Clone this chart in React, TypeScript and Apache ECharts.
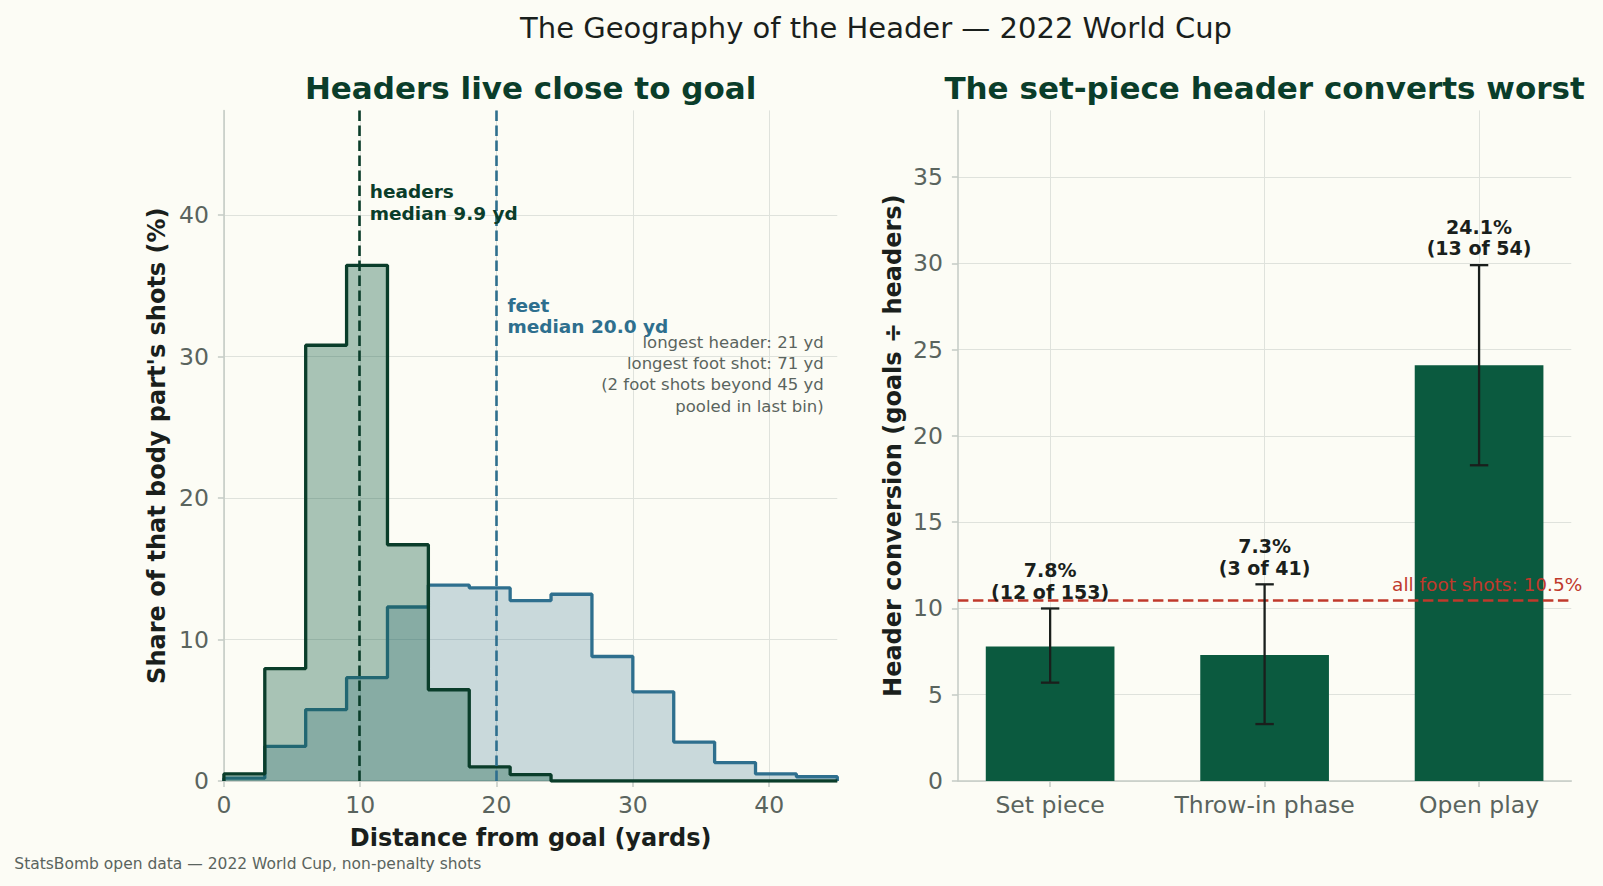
import React, { useEffect, useRef } from "react";
import * as echarts from "echarts";

// ---------- data ----------
const binEdges = [0, 3, 6, 9, 12, 15, 18, 21, 24, 27, 30, 33, 36, 39, 42];
const histMax = 45;
const headerShare = [0.5, 7.95, 30.8, 36.45, 16.7, 6.45, 1.0, 0.45, 0, 0, 0, 0, 0, 0, 0];
const feetShare = [0.2, 2.45, 5.05, 7.3, 12.3, 13.85, 13.65, 12.75, 13.2, 8.8, 6.3, 2.75, 1.3, 0.5, 0.3];
const headerMedian = 9.9;
const feetMedian = 20.0;
const leftXTicks = [0, 10, 20, 30, 40];
const leftYTicks = [0, 10, 20, 30, 40];
const leftYMax = 47.4;

const categories = ["Set piece", "Throw-in phase", "Open play"];
const goals = [12, 3, 13];
const headerCounts = [153, 41, 54];
const conversion = [7.8, 7.3, 24.1];
const ciLow = [5.7, 3.3, 18.3];
const ciHigh = [10.0, 11.4, 29.9];
const footBaseline = 10.5;
const rightYTicks = [0, 5, 10, 15, 20, 25, 30, 35];
const rightYMax = 38.87;

// ---------- style ----------
const FONT = "DejaVu Sans";
const BG = "#fcfcf5";
const DARK = "#0a3d2a";
const BLUE = "#2e6f8e";
const BAR = "#0b5a3f";
const RED = "#c0392b";
const INK = "#1a1f1c";
const MUTED = "#5a645e";
const SPINE = "#c5cbc5";
const GRID = "#dfe2dc";
const DASH = [10.5, 4.5];

const GRID_TOP = 110.4;
const GRID_H = 670.6;
const GRID_W = 613.4;
const LEFT_L = 223.9;
const RIGHT_L = 957.9;

function stepData(values: number[]) {
  const pts: number[][] = [[binEdges[0], 0]];
  values.forEach((v, i) => pts.push([binEdges[i], v]));
  pts.push([histMax, values[values.length - 1]]);
  pts.push([histMax, 0]);
  return pts;
}

export default function App() {
  const ref = useRef<HTMLDivElement>(null);
  useEffect(() => {
    document.body.style.margin = "0";
    document.body.style.background = BG;
    const chart = echarts.init(ref.current!, null, { renderer: "svg" });

    const axisCommon = {
      axisLine: { show: true, onZero: false, lineStyle: { color: SPINE, width: 1.5 } },
      axisTick: { show: true, length: 6, lineStyle: { color: SPINE, width: 1.5 } },
      splitLine: { show: true, lineStyle: { color: GRID, width: 1 } },
      axisLabel: { color: MUTED, fontFamily: FONT, fontSize: 23.5, margin: 12 },
      nameTextStyle: { color: INK, fontFamily: FONT, fontSize: 24, fontWeight: "bold" as const },
    };

    const catX = categories.map((_, i) => i);
    const xMinR = -0.43;
    const xMaxR = categories.length - 1 + 0.43;
    const barPx = (GRID_W / (xMaxR - xMinR)) * 0.6;

    chart.setOption({
      animation: false,
      backgroundColor: BG,
      textStyle: { fontFamily: FONT },
      grid: [
        { left: LEFT_L, top: GRID_TOP, width: GRID_W, height: GRID_H, containLabel: false },
        { left: RIGHT_L, top: GRID_TOP, width: GRID_W, height: GRID_H, containLabel: false },
      ],
      xAxis: [
        {
          type: "value",
          gridIndex: 0,
          min: 0,
          max: histMax,
          ...axisCommon,
          axisTick: { ...axisCommon.axisTick, customValues: leftXTicks },
          axisLabel: { ...axisCommon.axisLabel, customValues: leftXTicks },
          name: "Distance from goal (yards)",
          nameLocation: "middle",
          nameGap: 45,
        },
        {
          type: "value",
          gridIndex: 1,
          min: xMinR,
          max: xMaxR,
          ...axisCommon,
          axisTick: { ...axisCommon.axisTick, customValues: catX },
          axisLabel: {
            ...axisCommon.axisLabel,
            customValues: catX,
            formatter: (v: number) => categories[Math.round(v)] ?? "",
          },
        },
      ],
      yAxis: [
        {
          type: "value",
          gridIndex: 0,
          min: 0,
          max: leftYMax,
          ...axisCommon,
          axisTick: { ...axisCommon.axisTick, customValues: leftYTicks },
          axisLabel: { ...axisCommon.axisLabel, customValues: leftYTicks, margin: 15 },
          name: "Share of that body part's shots (%)",
          nameLocation: "middle",
          nameGap: 55,
        },
        {
          type: "value",
          gridIndex: 1,
          min: 0,
          max: rightYMax,
          ...axisCommon,
          axisTick: { ...axisCommon.axisTick, customValues: rightYTicks },
          axisLabel: { ...axisCommon.axisLabel, customValues: rightYTicks, margin: 15 },
          name: "Header conversion (goals ÷ headers)",
          nameLocation: "middle",
          nameGap: 53,
        },
      ],
      series: [
        {
          name: "feet",
          type: "line",
          xAxisIndex: 0,
          yAxisIndex: 0,
          step: "end",
          symbol: "none",
          data: stepData(feetShare),
          lineStyle: { color: BLUE, width: 3.3 },
          areaStyle: { color: BLUE, opacity: 0.25 },
          z: 2,
        },
        {
          name: "headers",
          type: "line",
          xAxisIndex: 0,
          yAxisIndex: 0,
          step: "end",
          symbol: "none",
          data: stepData(headerShare),
          lineStyle: { color: DARK, width: 3.3 },
          areaStyle: { color: BAR, opacity: 0.35 },
          z: 3,
          markLine: {
            silent: true,
            symbol: ["none", "none"],
            label: { show: false },
            lineStyle: { type: DASH, width: 2.6 },
            data: [
              { xAxis: headerMedian, lineStyle: { color: DARK, type: DASH, width: 2.6 } },
              { xAxis: feetMedian, lineStyle: { color: BLUE, type: DASH, width: 2.6 } },
            ],
          },
        },
        {
          name: "conversion",
          type: "bar",
          xAxisIndex: 1,
          yAxisIndex: 1,
          barWidth: barPx,
          data: conversion.map((v, i) => [i, v]),
          itemStyle: { color: BAR },
          z: 2,
          markLine: {
            silent: true,
            symbol: ["none", "none"],
            data: [{ yAxis: footBaseline }],
            lineStyle: { color: RED, type: DASH, width: 2.6 },
            label: {
              show: true,
              position: "insideEndTop",
              formatter: `all foot shots: ${footBaseline.toFixed(1)}%`,
              color: RED,
              fontFamily: FONT,
              fontSize: 18.5,
              distance: [-11, 6],
            },
          },
        },
        {
          name: "ci",
          type: "custom",
          xAxisIndex: 1,
          yAxisIndex: 1,
          z: 5,
          clip: false,
          data: conversion.map((_, i) => [i, ciLow[i], ciHigh[i]]),
          renderItem: (params: any, api: any) => {
            const i = params.dataIndex;
            const x = api.value(0);
            const lo = api.coord([x, api.value(1)]);
            const hi = api.coord([x, api.value(2)]);
            const cap = 9.2;
            const stroke = { stroke: INK, lineWidth: 2.3 };
            return {
              type: "group",
              children: [
                { type: "line", shape: { x1: lo[0], y1: lo[1], x2: hi[0], y2: hi[1] }, style: stroke },
                { type: "line", shape: { x1: lo[0] - cap, y1: lo[1], x2: lo[0] + cap, y2: lo[1] }, style: stroke },
                { type: "line", shape: { x1: hi[0] - cap, y1: hi[1], x2: hi[0] + cap, y2: hi[1] }, style: stroke },
                {
                  type: "text",
                  x: hi[0],
                  y: hi[1] - 6,
                  style: {
                    text: `${conversion[i].toFixed(1)}%\n(${goals[i]} of ${headerCounts[i]})`,
                    fill: INK,
                    font: `bold 19px ${FONT}`,
                    align: "center",
                    verticalAlign: "bottom",
                    lineHeight: 21.5,
                  },
                },
              ],
            };
          },
        },
      ],
    });

    const p = (pt: number[]) => chart.convertToPixel({ gridIndex: 0 }, pt) as number[];
    const hAnn = p([headerMedian + 0.8, 42.4]);
    const fAnn = p([feetMedian + 0.8, 34.4]);
    const note = p([44, 31.75]);

    chart.setOption({
      graphic: [
        {
          type: "text",
          style: {
            text: "The Geography of the Header — 2022 World Cup",
            x: 876,
            y: 27.6,
            fill: INK,
            font: `29px ${FONT}`,
            align: "center",
            verticalAlign: "middle",
          },
        },
        {
          type: "text",
          style: {
            text: "Headers live close to goal",
            x: 530.6,
            y: 88,
            fill: DARK,
            font: `bold 31px ${FONT}`,
            align: "center",
            verticalAlign: "middle",
          },
        },
        {
          type: "text",
          style: {
            text: "The set-piece header converts worst",
            x: 1264.6,
            y: 88,
            fill: DARK,
            font: `bold 31px ${FONT}`,
            align: "center",
            verticalAlign: "middle",
          },
        },
        {
          type: "text",
          z: 10,
          style: {
            text: `headers\nmedian ${headerMedian.toFixed(1)} yd`,
            x: hAnn[0],
            y: hAnn[1],
            fill: DARK,
            font: `bold 18.5px ${FONT}`,
            lineHeight: 21.7,
            align: "left",
            verticalAlign: "top",
          },
        },
        {
          type: "text",
          z: 10,
          style: {
            text: `feet\nmedian ${feetMedian.toFixed(1)} yd`,
            x: fAnn[0],
            y: fAnn[1],
            fill: BLUE,
            font: `bold 18.5px ${FONT}`,
            lineHeight: 21.7,
            align: "left",
            verticalAlign: "top",
          },
        },
        {
          type: "text",
          z: 10,
          style: {
            text: "longest header: 21 yd\nlongest foot shot: 71 yd\n(2 foot shots beyond 45 yd\npooled in last bin)",
            x: note[0],
            y: note[1],
            fill: MUTED,
            font: `16.5px ${FONT}`,
            lineHeight: 21.2,
            align: "right",
            verticalAlign: "top",
          },
        },
        {
          type: "text",
          style: {
            text: "StatsBomb open data — 2022 World Cup, non-penalty shots",
            x: 14.3,
            y: 864,
            fill: MUTED,
            font: `15.5px ${FONT}`,
            align: "left",
            verticalAlign: "middle",
          },
        },
      ],
    });

    return () => chart.dispose();
  }, []);
  return <div ref={ref} style={{ width: 1603, height: 886 }} />;
}
